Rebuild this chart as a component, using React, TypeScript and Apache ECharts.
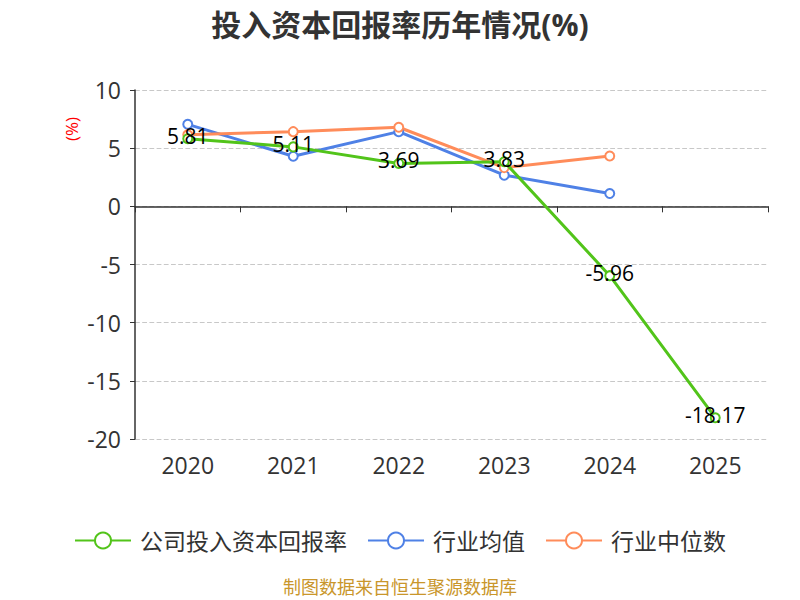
import React, { useEffect, useRef } from "react";
import * as echarts from "echarts";

const categories = ["2020", "2021", "2022", "2023", "2024", "2025"];
const companyValues = [5.81, 5.11, 3.69, 3.83, -5.96, -18.17];
const industryAvg = [7.05, 4.3, 6.42, 2.68, 1.1, null];
const industryMedian = [6.15, 6.42, 6.8, 3.33, 4.33, null];
const yTicks = { min: -20, max: 10, interval: 5 };

export default function App() {
  const ref = useRef<HTMLDivElement>(null);
  useEffect(() => {
    const chart = echarts.init(ref.current!, null, { renderer: "svg" });
    const font = "'Open Sans', 'Noto Sans CJK SC', sans-serif";
    chart.setOption({
      animation: false,
      textStyle: { fontFamily: font },
      title: {
        text: "投入资本回报率历年情况(%)",
        left: "center",
        top: 4,
        textStyle: { fontSize: 30, fontWeight: "bold", color: "#333", fontFamily: font },
      },
      grid: { left: 135, right: 32, top: 90, bottom: 161 },
      legend: {
        top: 524,
        left: "center",
        itemWidth: 56,
        itemHeight: 20,
        itemGap: 20,
        textStyle: { fontSize: 23, color: "#333", fontFamily: font, padding: [0, 0, 0, 4] },
        data: ["公司投入资本回报率", "行业均值", "行业中位数"],
      },
      graphic: [
        {
          type: "text",
          x: 63,
          y: 141,
          rotation: Math.PI / 2,
          style: { text: "(%)", fill: "#ff0000", fontSize: 17, fontFamily: font },
        },
        {
          type: "text",
          left: "center",
          top: 578,
          style: { text: "制图数据来自恒生聚源数据库", fill: "#c9962b", fontSize: 18, fontFamily: font },
        },
      ],
      xAxis: [
        {
          type: "category",
          data: categories,
          boundaryGap: true,
          axisLine: { onZero: true, lineStyle: { color: "#333", width: 1.5 } },
          axisTick: { show: true, length: 6, lineStyle: { color: "#333" } },
          axisLabel: { show: false },
        },
        {
          type: "category",
          data: categories,
          position: "bottom",
          axisLine: { show: false, onZero: false },
          axisTick: { show: false },
          axisLabel: { fontSize: 23, color: "#333", margin: 14, fontFamily: font },
        },
      ],
      yAxis: {
        type: "value",
        min: yTicks.min,
        max: yTicks.max,
        interval: yTicks.interval,
        axisLine: { show: true, lineStyle: { color: "#333", width: 1.5 } },
        axisTick: { show: true, length: 5, lineStyle: { color: "#333" } },
        axisLabel: { fontSize: 23, color: "#333", margin: 14, fontFamily: font },
        splitLine: { lineStyle: { type: "dashed", color: "#c8c8c8", width: 1.2 } },
      },
      series: [
        {
          name: "公司投入资本回报率",
          type: "line",
          data: companyValues,
          symbol: "emptyCircle",
          symbolSize: 9,
          itemStyle: { color: "#52c41a" },
          lineStyle: { width: 3 },
          label: {
            show: true,
            position: "inside",
            offset: [0, -3],
            fontSize: 21,
            color: "#000",
            fontFamily: font,
          },
          z: 3,
        },
        {
          name: "行业均值",
          type: "line",
          data: industryAvg,
          symbol: "emptyCircle",
          symbolSize: 9,
          itemStyle: { color: "#4f81e6" },
          lineStyle: { width: 3 },
          z: 2,
        },
        {
          name: "行业中位数",
          type: "line",
          data: industryMedian,
          symbol: "emptyCircle",
          symbolSize: 9,
          itemStyle: { color: "#ff8c5a" },
          lineStyle: { width: 3 },
          z: 2,
        },
      ],
    });
    return () => chart.dispose();
  }, []);
  return <div ref={ref} style={{ width: 800, height: 600, position: "absolute", left: 0, top: 0 }} />;
}
